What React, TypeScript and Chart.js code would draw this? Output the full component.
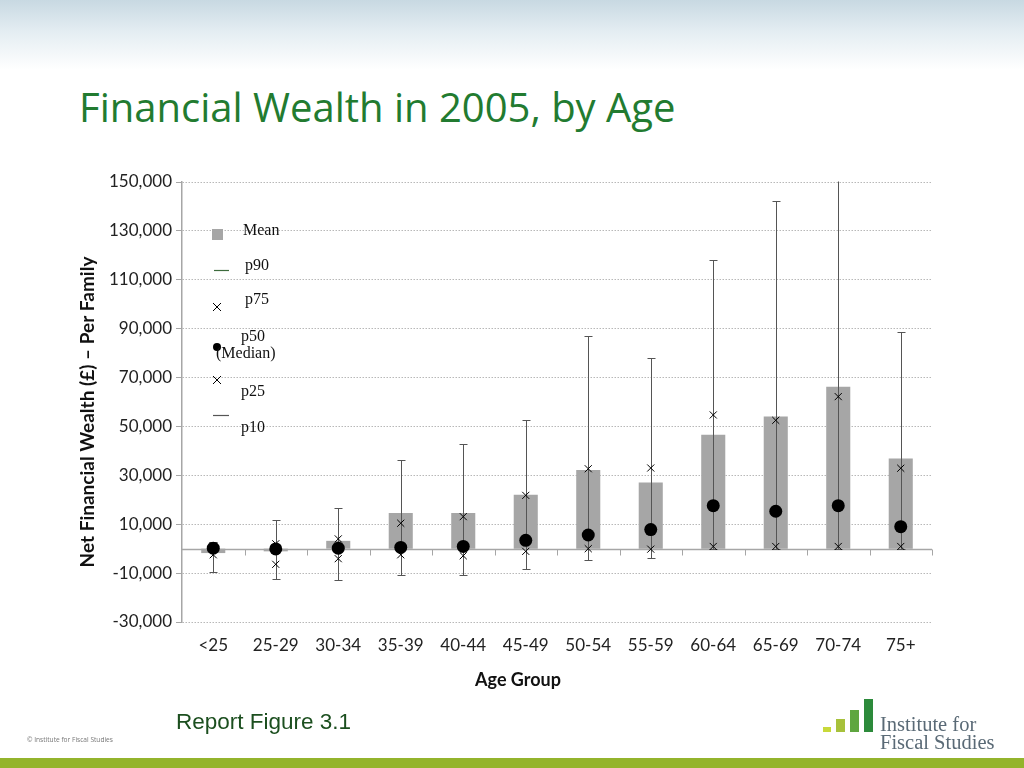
import React, { useEffect, useRef } from "react";
import { Chart, registerables } from "chart.js";

Chart.register(...registerables);

const categories = ["<25", "25-29", "30-34", "35-39", "40-44", "45-49", "50-54", "55-59", "60-64", "65-69", "70-74", "75+"];
const meanValues = [-1800, -1100, 3200, 14600, 14600, 22100, 32200, 27100, 46600, 54100, 66200, 36900];
const p90Values = [2700, 11700, 16500, 36100, 42700, 52500, 87100, 78100, 118100, 142400, 165000, 88500];
const p75Values = [1000, 2000, 4000, 10400, 13100, 21800, 32700, 33000, 54700, 52500, 62200, 32900];
const p50Values = [200, -100, 200, 500, 900, 3400, 5600, 7800, 17600, 15300, 17600, 9000];
const p25Values = [-2500, -6400, -4100, -2500, -2900, -1100, 0, -200, 900, 900, 900, 900];
const p10Values = [-9700, -12300, -12800, -10800, -10800, -8200, -4800, -4000, 0, 0, 0, 0];
const yTickValues = [-30000, -10000, 10000, 30000, 50000, 70000, 90000, 110000, 130000, 150000];
const legendLabels = ["Mean", "p90", "p75", "p50", "(Median)", "p25", "p10"];
const xAxisTitle = "Age Group";
const yAxisTitle = "Net Financial Wealth (£) – Per Family";

const BAR_COLOR = "#a6a6a6";
const WHISKER_COLOR = "#555555";

const zeroLinePlugin = {
  id: "zeroLine",
  beforeDatasetsDraw(chart: any) {
    const { ctx, chartArea, scales } = chart;
    const y = scales.y;
    const y0 = Math.round(y.getPixelForValue(0)) + 0.5;
    ctx.save();
    ctx.strokeStyle = "#a6a6a6";
    ctx.lineWidth = 1.5;
    ctx.beginPath();
    ctx.moveTo(chartArea.left, y0);
    ctx.lineTo(chartArea.right, y0);
    ctx.stroke();
    ctx.lineWidth = 1;
    const step = chartArea.width / categories.length;
    for (let i = 1; i <= categories.length; i++) {
      const px = Math.round(chartArea.left + i * step) + 0.5;
      ctx.beginPath();
      ctx.moveTo(px, y0);
      ctx.lineTo(px, y0 + 6);
      ctx.stroke();
    }
    ctx.restore();
  },
};

const whiskerPlugin = {
  id: "whiskers",
  afterDatasetDraw(chart: any, args: any) {
    if (args.index !== 0) return;
    const { ctx, chartArea, scales } = chart;
    const x = scales.x;
    const y = scales.y;
    ctx.save();
    ctx.beginPath();
    ctx.rect(chartArea.left, chartArea.top - 0.5, chartArea.width, chartArea.height + 1);
    ctx.clip();
    ctx.strokeStyle = WHISKER_COLOR;
    ctx.lineWidth = 1;
    categories.forEach((_, i) => {
      const px = Math.round(x.getPixelForValue(i)) + 0.5;
      const top = Math.round(y.getPixelForValue(p90Values[i])) + 0.5;
      const bot = Math.round(y.getPixelForValue(p10Values[i])) + 0.5;
      ctx.beginPath();
      ctx.moveTo(px, top);
      ctx.lineTo(px, bot);
      ctx.stroke();
      [top, bot].forEach((yy) => {
        ctx.beginPath();
        ctx.moveTo(px - 4, yy);
        ctx.lineTo(px + 4, yy);
        ctx.stroke();
      });
    });
    ctx.restore();
  },
};

const legendPlugin = {
  id: "innerLegend",
  afterDraw(chart: any) {
    const { ctx, chartArea } = chart;
    const L = chartArea.left;
    const T = chartArea.top;
    ctx.save();
    ctx.fillStyle = BAR_COLOR;
    ctx.fillRect(L + 30, T + 47, 11, 11);
    ctx.strokeStyle = "#3d6b3d";
    ctx.lineWidth = 1.2;
    ctx.beginPath();
    ctx.moveTo(L + 32, T + 88.5);
    ctx.lineTo(L + 47, T + 88.5);
    ctx.stroke();
    const cross = (cx: number, cy: number) => {
      ctx.strokeStyle = "#000";
      ctx.lineWidth = 1;
      ctx.beginPath();
      ctx.moveTo(cx - 4, cy - 4);
      ctx.lineTo(cx + 4, cy + 4);
      ctx.moveTo(cx + 4, cy - 4);
      ctx.lineTo(cx - 4, cy + 4);
      ctx.stroke();
    };
    cross(L + 35, T + 125);
    ctx.fillStyle = "#000";
    ctx.beginPath();
    ctx.arc(L + 35, T + 165, 4, 0, Math.PI * 2);
    ctx.fill();
    cross(L + 35, T + 198);
    ctx.strokeStyle = "#555";
    ctx.lineWidth = 1.2;
    ctx.beginPath();
    ctx.moveTo(L + 31, T + 233.5);
    ctx.lineTo(L + 47, T + 233.5);
    ctx.stroke();
    ctx.fillStyle = "#111";
    ctx.font = "16px 'Liberation Serif', 'DejaVu Serif', serif";
    ctx.textBaseline = "middle";
    ctx.textAlign = "left";
    const pos: [number, number][] = [
      [61, 49],
      [63, 84],
      [63, 118],
      [59, 155],
      [34, 172],
      [59, 210],
      [59, 246],
    ];
    legendLabels.forEach((t, i) => {
      ctx.fillText(t, L + pos[i][0], T + pos[i][1]);
    });
    // axis titles (placed as in the original, slightly off-centre)
    ctx.fillStyle = "#111";
    ctx.font = "bold 18px Lato, sans-serif";
    ctx.textAlign = "center";
    ctx.textBaseline = "middle";
    ctx.fillText(xAxisTitle, L + 336, chartArea.bottom + 58);
    ctx.save();
    ctx.translate(L - 94, T + 230);
    ctx.rotate(-Math.PI / 2);
    ctx.font = "bold 19px Lato, sans-serif";
    ctx.fillText(yAxisTitle, 0, 0);
    ctx.restore();
    ctx.restore();
  },
};

function ChartCanvas() {
  const ref = useRef<HTMLCanvasElement | null>(null);
  useEffect(() => {
    if (!ref.current) return;
    const chart = new Chart(ref.current, {
      type: "bar",
      data: {
        labels: categories,
        datasets: [
          {
            type: "bar",
            label: "Mean",
            data: meanValues,
            backgroundColor: BAR_COLOR,
            borderWidth: 0,
            barPercentage: 0.385,
            categoryPercentage: 1,
            order: 10,
          } as any,
          {
            type: "line",
            label: "p75",
            data: p75Values,
            showLine: false,
            pointStyle: "crossRot",
            pointRadius: 5,
            borderColor: "#000",
            backgroundColor: "#000",
            pointBorderWidth: 1,
            order: 1,
          },
          {
            type: "line",
            label: "p25",
            data: p25Values,
            showLine: false,
            pointStyle: "crossRot",
            pointRadius: 5,
            borderColor: "#000",
            backgroundColor: "#000",
            pointBorderWidth: 1,
            order: 1,
          },
          {
            type: "line",
            label: "p50 (Median)",
            data: p50Values,
            showLine: false,
            pointStyle: "circle",
            pointRadius: 6.5,
            borderColor: "#000",
            backgroundColor: "#000",
            pointBorderWidth: 0,
            order: 0,
          },
        ],
      },
      options: {
        animation: false,
        responsive: false,
        devicePixelRatio: 1,
        layout: { padding: { left: 70, top: 182, right: 92, bottom: 66 } },
        plugins: {
          legend: { display: false },
          tooltip: { enabled: false },
        },
        scales: {
          x: {
            grid: { display: false },
            border: { display: false },
            ticks: {
              color: "#222",
              font: { family: "Lato", size: 17 },
              padding: 5,
              maxRotation: 0,
              autoSkip: false,
            },
            title: { display: false },
            afterFit: (s: any) => {
              s.height = 80;
            },
          },
          y: {
            min: -30000,
            max: 150000,
            afterBuildTicks: (s: any) => {
              s.ticks = yTickValues.map((v) => ({ value: v }));
            },
            grid: {
              color: "#b8b8b8",
              lineWidth: 1,
              drawTicks: true,
              tickLength: 6,
              tickColor: "#a6a6a6",
              tickBorderDash: [],
            },
            border: { display: true, color: "#a6a6a6", width: 1.5, dash: [1.5, 1.5] },
            ticks: {
              color: "#222",
              font: { family: "Lato", size: 17 },
              padding: 4,
              callback: (v: any) => Number(v).toLocaleString("en-US"),
            },
            title: { display: false },
            afterFit: (s: any) => {
              s.width = 112;
            },
          },
        },
      } as any,
      plugins: [zeroLinePlugin, whiskerPlugin, legendPlugin],
    });
    return () => chart.destroy();
  }, []);
  return <canvas ref={ref} width={1024} height={768} style={{ position: "absolute", left: 0, top: 0, width: 1024, height: 768 }} />;
}

export default function App() {
  return (
    <div style={{ position: "absolute", left: 0, top: 0, width: 1024, height: 768, overflow: "hidden", background: "#ffffff" }}>
      <div style={{ position: "absolute", left: 0, top: 0, width: 1024, height: 70, background: "linear-gradient(#c8d9e2 0%, #e4edf2 45%, #ffffff 100%)" }} />
      <div style={{ position: "absolute", left: 79, top: 87, fontFamily: "'Open Sans', sans-serif", fontSize: 40, lineHeight: 1, color: "#227b30", whiteSpace: "nowrap" }}>
        Financial Wealth in 2005, by Age
      </div>
      <ChartCanvas />
      <div style={{ position: "absolute", left: 176, top: 711, fontFamily: "'Liberation Sans', Arial, sans-serif", fontSize: 22.5, lineHeight: 1, color: "#1c4f1f", whiteSpace: "nowrap" }}>
        Report Figure 3.1
      </div>
      <div style={{ position: "absolute", left: 27, top: 737, fontFamily: "'Open Sans', sans-serif", fontSize: 6.6, lineHeight: 1, color: "#777", whiteSpace: "nowrap" }}>
        © Institute for Fiscal Studies
      </div>
      <div style={{ position: "absolute", left: 823, top: 727, width: 8, height: 5, background: "#c8d93a" }} />
      <div style={{ position: "absolute", left: 836, top: 719, width: 9, height: 13, background: "#a7c13b" }} />
      <div style={{ position: "absolute", left: 850, top: 710, width: 9, height: 22, background: "#5fa63f" }} />
      <div style={{ position: "absolute", left: 864, top: 699, width: 9, height: 33, background: "#2c8a3b" }} />
      <div style={{ position: "absolute", left: 880, top: 715, fontFamily: "'Liberation Serif', serif", fontSize: 20.5, lineHeight: "18px", color: "#5a6a76", whiteSpace: "nowrap" }}>
        Institute for
        <br />
        Fiscal Studies
      </div>
      <div style={{ position: "absolute", left: 0, top: 758, width: 1024, height: 10, background: "#94b42c" }} />
    </div>
  );
}
